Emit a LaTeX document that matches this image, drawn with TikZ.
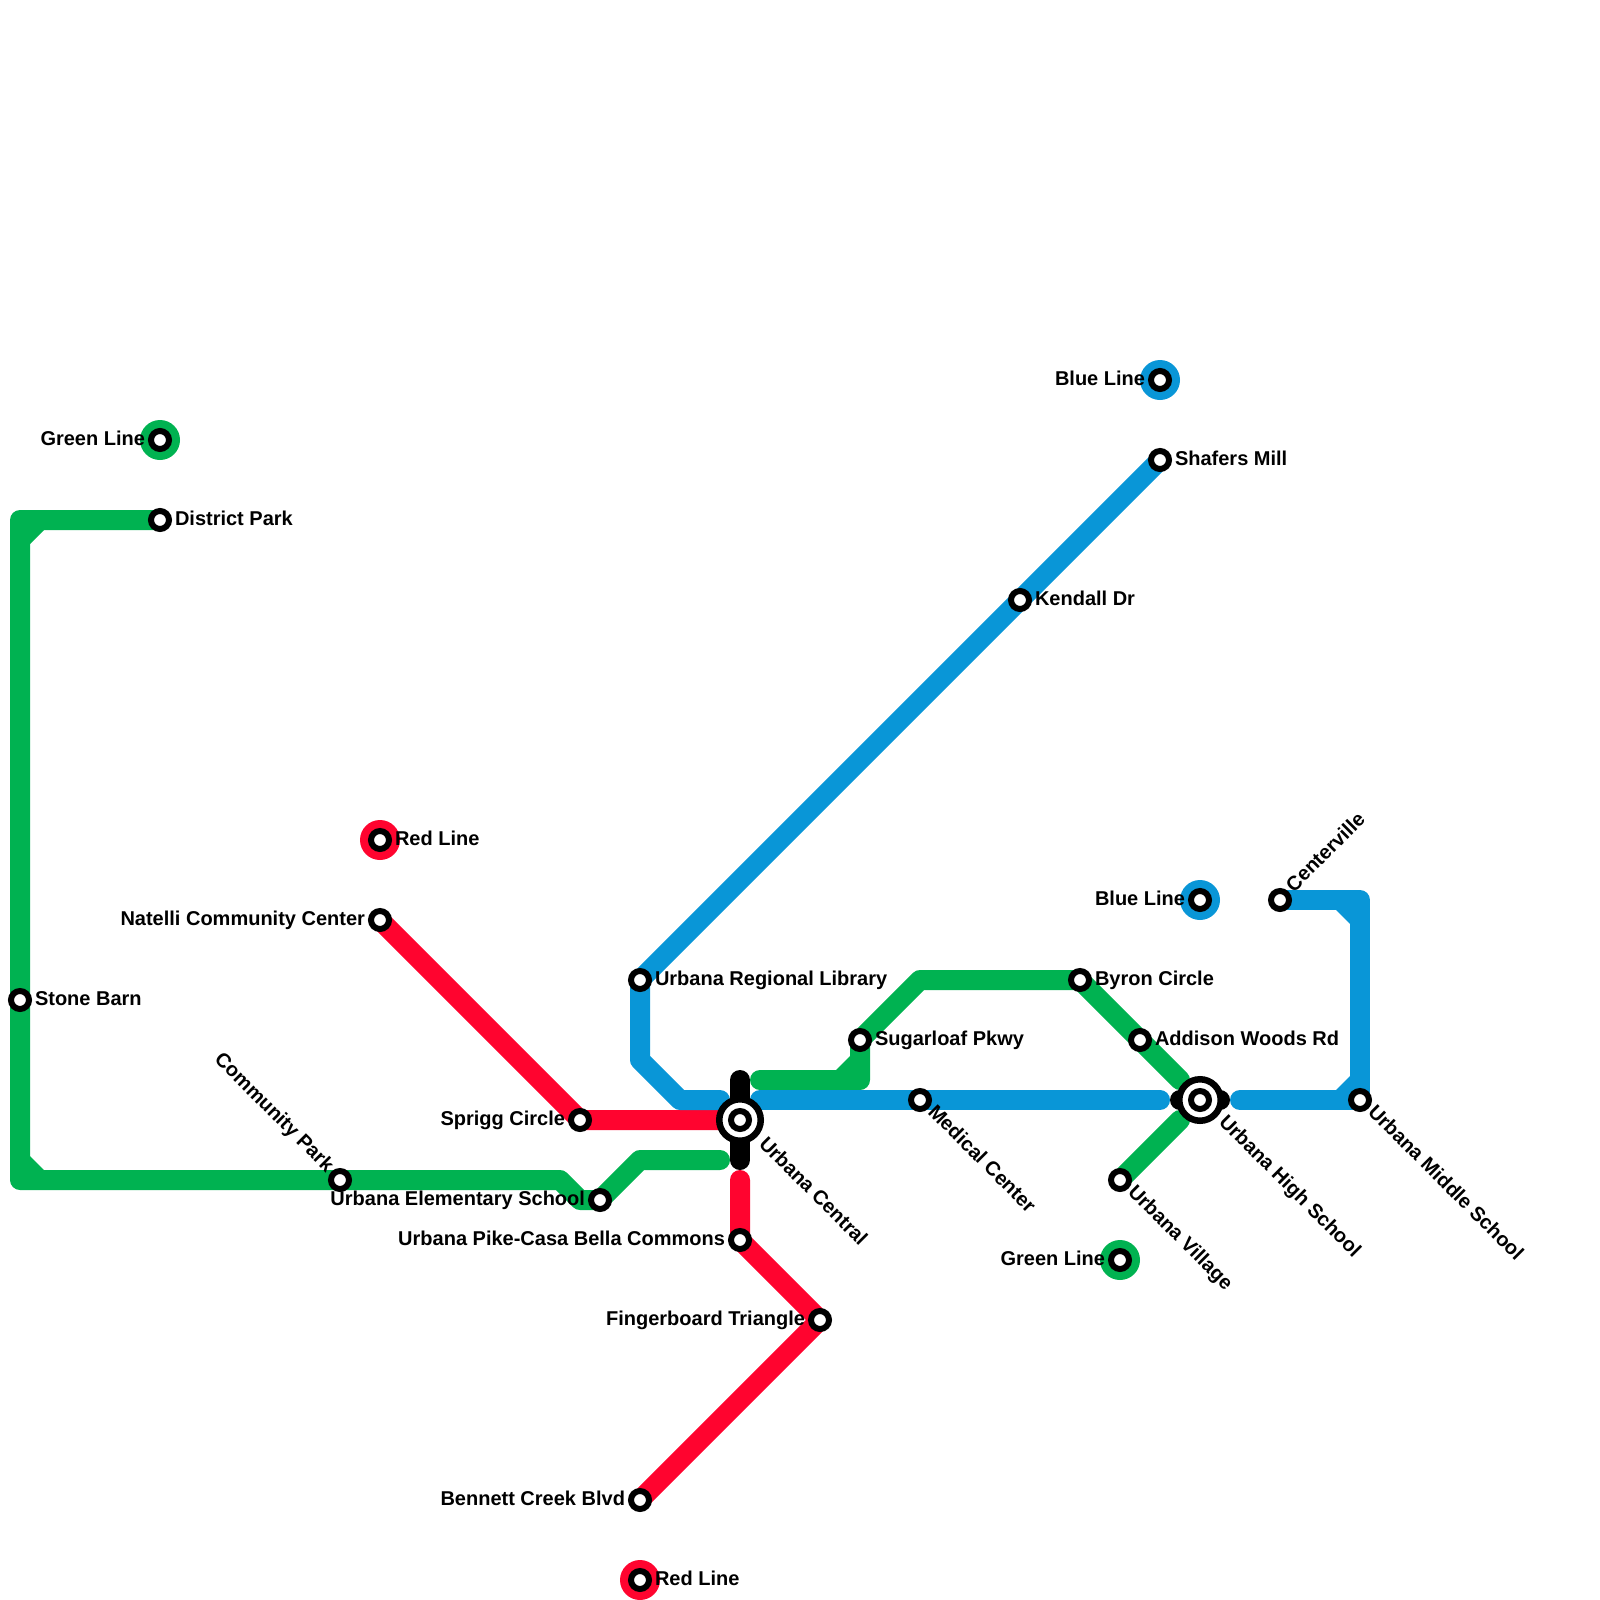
\documentclass[tikz,border=0pt]{standalone}
\usepackage{fontspec}
\setmainfont{Liberation Sans}
\definecolor{lgreen}{RGB}{0,178,81}
\definecolor{lblue}{RGB}{9,150,215}
\definecolor{lred}{RGB}{255,4,47}
\tikzset{
  x=1pt,y=-1pt,
  route/.style={line width=20pt,line cap=round,line join=round},
  greenroute/.style={route,draw=lgreen},
  blueroute/.style={route,draw=lblue},
  redroute/.style={route,draw=lred},
  tube/.style={route,draw=black},
  stn/.style={circle,draw=black,fill=white,line width=6pt,minimum size=18pt,inner sep=0pt,outer sep=0pt},
  hub/.style={circle,draw=black,fill=white,line width=6.5pt,minimum size=41.5pt,inner sep=0pt,outer sep=0pt},
  halo/.style={circle,minimum size=40pt,inner sep=0pt,outer sep=0pt},
  lab/.style={font=\bfseries\fontsize{20}{22}\selectfont,inner sep=0pt,outer sep=0pt,text=black},
  labr/.style={lab,anchor=base west,xshift=15pt,yshift=-5pt},
  labl/.style={lab,anchor=base east,xshift=-15pt,yshift=-5pt},
  labd/.style={lab,anchor=base west,rotate=-45},
}
\begin{document}
\begin{tikzpicture}
\useasboundingbox (0,0) rectangle (1600,1600);
% stations
\coordinate (greenA) at (160,440);
\coordinate (district) at (160,520);
\coordinate (stone) at (20,1000);
\coordinate (community) at (340,1180);
\coordinate (elementary) at (600,1200);
\coordinate (central) at (740,1120);
\coordinate (library) at (640,980);
\coordinate (kendall) at (1020,600);
\coordinate (shafers) at (1160,460);
\coordinate (blueA) at (1160,380);
\coordinate (sugarloaf) at (860,1040);
\coordinate (medical) at (920,1100);
\coordinate (byron) at (1080,980);
\coordinate (addison) at (1140,1040);
\coordinate (high) at (1200,1100);
\coordinate (village) at (1120,1180);
\coordinate (greenB) at (1120,1260);
\coordinate (blueB) at (1200,900);
\coordinate (center) at (1280,900);
\coordinate (middle) at (1360,1100);
\coordinate (redA) at (380,840);
\coordinate (natelli) at (380,920);
\coordinate (sprigg) at (580,1120);
\coordinate (pike) at (740,1240);
\coordinate (finger) at (820,1320);
\coordinate (bennett) at (640,1500);
\coordinate (redB) at (640,1580);
% bends
\coordinate (g1) at (20,520);
\coordinate (g2) at (20,1180);
\coordinate (g3) at (560,1180);
\coordinate (g4) at (580,1200);
\coordinate (g5) at (640,1160);
\coordinate (g6) at (720,1160);
\coordinate (g7) at (760,1080);
\coordinate (g8) at (860,1080);
\coordinate (g9) at (920,980);
\coordinate (g10) at (1180,1080);
\coordinate (g11) at (1180,1120);
\coordinate (b1) at (640,1060);
\coordinate (b2) at (680,1100);
\coordinate (b3) at (720,1100);
\coordinate (b4) at (760,1100);
\coordinate (b5) at (1160,1100);
\coordinate (b6) at (1240,1100);
\coordinate (b7) at (1360,900);
\coordinate (r1) at (720,1120);
\coordinate (r2) at (740,1180);
\coordinate (t1) at (740,1080);
\coordinate (t2) at (740,1160);
\coordinate (t3) at (1180,1100);
\coordinate (t4) at (1220,1100);
% green
\draw[greenroute] (district) -- (g1) -- (stone) -- (g2) -- (community) -- (g3) -- (g4) -- (elementary) -- (g5) -- (g6);
\draw[greenroute] (g7) -- (g8) -- (sugarloaf) -- (g9) -- (byron) -- (addison) -- (g10);
\draw[greenroute] (village) -- (g11);
\fill[lgreen] (30,530) -- (44,530) -- (30,544) -- cycle;
\fill[lgreen] (30,1170) -- (30,1156) -- (44,1170) -- cycle;
\fill[lgreen] (850,1070) -- (850,1056) -- (836,1070) -- cycle;
% red
\draw[redroute] (natelli) -- (sprigg) -- (r1);
\draw[redroute] (r2) -- (pike) -- (finger) -- (bennett);
% blue
\draw[blueroute] (shafers) -- (kendall) -- (library) -- (b1) -- (b2) -- (b3);
\draw[blueroute] (b4) -- (medical) -- (b5);
\draw[blueroute] (center) -- (b7) -- (middle) -- (b6);
\fill[lblue] (1350,910) -- (1336,910) -- (1350,924) -- cycle;
\fill[lblue] (1350,1090) -- (1350,1076) -- (1336,1090) -- cycle;
% interchanges tubes
\draw[tube] (t1) -- (t2);
\draw[tube] (t3) -- (t4);
% halos
\node[halo,fill=lgreen] (haloGreenA) at (greenA) {};
\node[halo,fill=lblue] (haloBlueA) at (blueA) {};
\node[halo,fill=lblue] (haloBlueB) at (blueB) {};
\node[halo,fill=lgreen] (haloGreenB) at (greenB) {};
\node[halo,fill=lred] (haloRedA) at (redA) {};
\node[halo,fill=lred] (haloRedB) at (redB) {};
% hubs
\node[hub] (hubCentral) at (central) {};
\node[hub] (hubHigh) at (high) {};
% station marks
\foreach \s in {greenA,district,stone,community,elementary,central,library,kendall,shafers,blueA,sugarloaf,medical,byron,addison,high,village,greenB,blueB,center,middle,redA,natelli,sprigg,pike,finger,bennett,redB}
  \node[stn] (st\s) at (\s) {};
% labels
\node[labl] (lgreenA) at (greenA) {Green Line};
\node[labr] (ldistrict) at (district) {District Park};
\node[labr] (lstone) at (stone) {Stone Barn};
\node[lab,anchor=base east,rotate=-45] (lcommunity) at ([shift={(-14,-7)}]community) {Community Park};
\node[labl] (lelementary) at (elementary) {Urbana Elementary School};
\node[labd] (lcentral) at ([shift={(18,25)}]central) {Urbana Central};
\node[labr] (llibrary) at (library) {Urbana Regional Library};
\node[labr] (lkendall) at (kendall) {Kendall Dr};
\node[labr] (lshafers) at (shafers) {Shafers Mill};
\node[labl] (lblueA) at (blueA) {Blue Line};
\node[labr] (lsugarloaf) at (sugarloaf) {Sugarloaf Pkwy};
\node[labd] (lmedical) at ([shift={(7,13)}]medical) {Medical Center};
\node[labr] (lbyron) at (byron) {Byron Circle};
\node[labr] (laddison) at (addison) {Addison Woods Rd};
\node[labd] (lhigh) at ([shift={(18,23)}]high) {Urbana High School};
\node[labd] (lvillage) at ([shift={(7,13)}]village) {Urbana Village};
\node[labl] (lgreenB) at (greenB) {Green Line};
\node[labl] (lblueB) at (blueB) {Blue Line};
\node[lab,anchor=base west,rotate=45] (lcenter) at ([shift={(14,-7)}]center) {Centerville};
\node[labd] (lmiddle) at ([shift={(7,13)}]middle) {Urbana Middle School};
\node[labr] (lredA) at (redA) {Red Line};
\node[labl] (lnatelli) at (natelli) {Natelli Community Center};
\node[labl] (lsprigg) at (sprigg) {Sprigg Circle};
\node[labl] (lpike) at (pike) {Urbana Pike-Casa Bella Commons};
\node[labl] (lfinger) at (finger) {Fingerboard Triangle};
\node[labl] (lbennett) at (bennett) {Bennett Creek Blvd};
\node[labr] (lredB) at (redB) {Red Line};
\end{tikzpicture}
\end{document}
